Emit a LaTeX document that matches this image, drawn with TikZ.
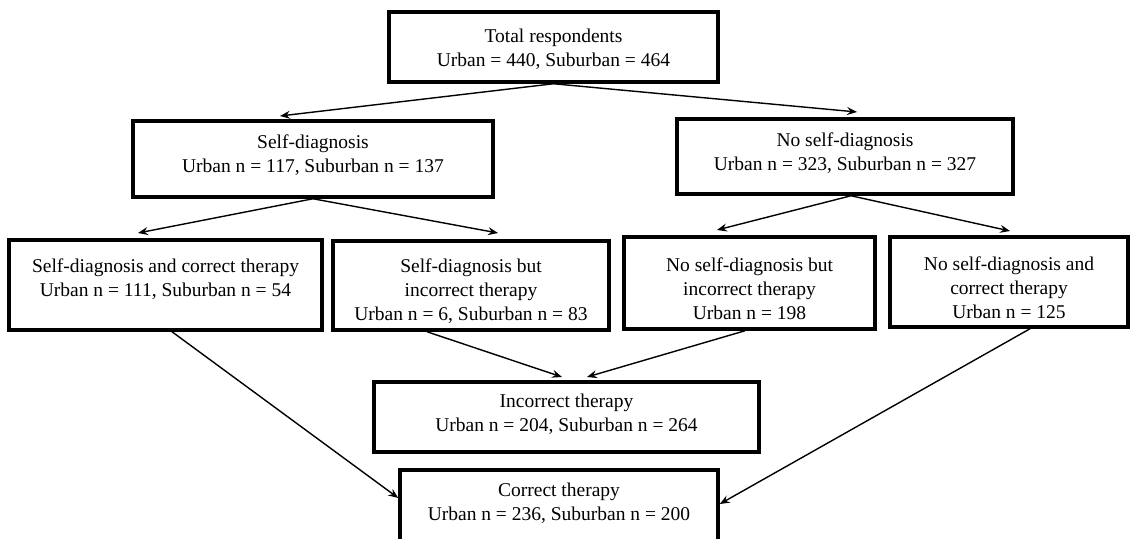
\documentclass[tikz,border=0pt]{standalone}
\usepackage{fontspec}
\setmainfont{Liberation Serif}
\usetikzlibrary{arrows.meta}
\begin{document}
\begin{tikzpicture}[x=1pt,y=-1pt,
  box/.style={draw=black, line width=3.5pt, rectangle, inner sep=0pt},
  txt/.style={align=center, inner sep=0pt, font=\fontsize{19.5}{24}\selectfont},
  arr/.style={line width=1.4pt, -{Stealth[length=10pt,width=8pt,inset=3.5pt]}}]
\useasboundingbox (0,0) rectangle (1131,538);
\clip (0,0) rectangle (1131,538);
% boxes
\node[box, minimum width=329pt, minimum height=70pt] (top) at (553.5,47) {};
\node[box, minimum width=360pt, minimum height=76pt] (sd) at (313,159) {};
\node[box, minimum width=336pt, minimum height=75pt] (nsd) at (845,156.5) {};
\node[box, minimum width=313pt, minimum height=90pt] (b1) at (165.5,285) {};
\node[box, minimum width=276pt, minimum height=89pt] (b2) at (471,285.5) {};
\node[box, minimum width=251pt, minimum height=92pt] (b3) at (749.5,283) {};
\node[box, minimum width=238pt, minimum height=90pt] (b4) at (1009,282) {};
\node[box, minimum width=385pt, minimum height=70pt] (inc) at (566.5,417) {};
\node[box, minimum width=318pt, minimum height=71pt] (cor) at (559,505.5) {};
% texts
\node[txt] (ttop) at (553.5,49.5) {Total respondents\\Urban = 440, Suburban = 464};
\node[txt] (tsd) at (313,155.5) {Self-diagnosis\\Urban n = 117, Suburban n = 137};
\node[txt] (tnsd) at (845,153.5) {No self-diagnosis\\Urban n = 323, Suburban n = 327};
\node[txt] (tb1) at (165.5,279) {Self-diagnosis and correct therapy\\Urban n = 111, Suburban n = 54};
\node[txt] (tb2) at (471,291) {Self-diagnosis but\\incorrect therapy\\Urban n = 6, Suburban n = 83};
\node[txt] (tb3) at (749.5,289) {No self-diagnosis but\\incorrect therapy\\Urban n = 198};
\node[txt] (tb4) at (1009,288) {No self-diagnosis and\\correct therapy\\Urban n = 125};
\node[txt] (tinc) at (566.5,414.5) {Incorrect therapy\\Urban n = 204, Suburban n = 264};
\node[txt] (tcor) at (559,503) {Correct therapy\\Urban n = 236, Suburban n = 200};
% arrow targets
\coordinate (sdin) at (280,116);
\coordinate (nsdin) at (857,112);
\coordinate (b1in) at (138,233);
\coordinate (b2in) at (498,233);
\coordinate (b3in) at (717,230);
\coordinate (b4in) at (1010,231);
\coordinate (incin1) at (562,377);
\coordinate (incin2) at (587,377);
% connectors
\draw[arr] (top.south) -- (sdin);
\draw[arr] (top.south) -- (nsdin);
\draw[arr] (sd.south) -- (b1in);
\draw[arr] (sd.south) -- (b2in);
\draw[arr] ([xshift=6pt]nsd.south) -- (b3in);
\draw[arr] ([xshift=6pt]nsd.south) -- (b4in);
\draw[arr] ([xshift=-44pt]b2.south) -- (incin1);
\draw[arr] ([xshift=-4.5pt]b3.south) -- (incin2);
\draw[arr] ([xshift=6.5pt]b1.south) -- ([yshift=7.5pt]cor.west);
\draw[arr] ([xshift=21pt]b4.south) -- ([yshift=1.5pt]cor.east);
\end{tikzpicture}
\end{document}
